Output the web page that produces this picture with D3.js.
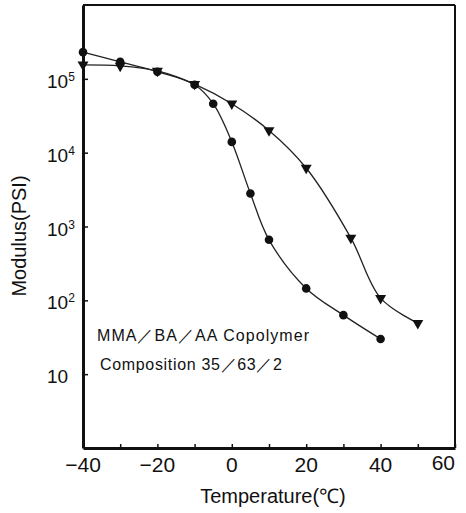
<!DOCTYPE html>
<html>
<head>
<meta charset="utf-8">
<script src="https://cdn.jsdelivr.net/npm/d3@7"></script>
<style>
  body { margin: 0; background: #fff; }
  svg { display: block; font-family: "Liberation Sans", Arial, sans-serif; }
</style>
</head>
<body>
<svg id="chart" width="466" height="513"></svg>
<script>
// temperatures (deg C) and modulus (PSI)
var circleTemp = [-40, -30, -20, -10, -5, 0, 5, 10, 20, 30, 40];
var circleMod  = [2.3e5, 1.7e5, 1.25e5, 8.3e4, 4.6e4, 1.4e4, 2.8e3, 660, 145, 63, 30];
var triTemp = [-40, -30, -20, -10, 0, 10, 20, 32, 40, 50];
var triMod  = [1.55e5, 1.5e5, 1.28e5, 8.5e4, 4.6e4, 2.0e4, 6.2e3, 700, 107, 49];
var xTicks = [-40, -30, -20, -10, 0, 10, 20, 30, 40, 50, 60];
var xLabels = [-40, -20, 0, 20, 40, 60];
var yTicks = [10, 100, 1000, 1e4, 1e5];
var yExp = ["", "2", "3", "4", "5"];
var note1 = "MMA\uFF0FBA\uFF0FAA Copolymer";
var note2 = "Composition 35\uFF0F63\uFF0F2";

(function() {
  var svg = d3.select("#chart");
  var pl = 83, pt = 5, pr = 455, pb = 448;
  var ink = "#111";

  var x = d3.scaleLinear().domain([-40, 60]).range([pl, pr]);
  var y = d3.scaleLog().domain([1, 1e6]).range([pb, pt]);

  // frame
  svg.append("line").attr("x1", pl).attr("x2", pr).attr("y1", pt).attr("y2", pt)
    .attr("stroke", ink).attr("stroke-width", 2);
  svg.append("line").attr("x1", pr).attr("x2", pr).attr("y1", pt).attr("y2", pb)
    .attr("stroke", ink).attr("stroke-width", 2);

  // x axis, ticks inside
  var xAxis = svg.append("g").attr("transform", "translate(0," + pb + ")")
    .call(d3.axisBottom(x).tickValues(xTicks).tickSize(-4).tickSizeOuter(0).tickFormat(""));
  xAxis.select(".domain").attr("stroke", ink).attr("stroke-width", 3);
  xAxis.selectAll(".tick line").attr("stroke", ink).attr("stroke-width", 1.5);

  svg.append("g").selectAll("text").data(xLabels).enter().append("text")
    .attr("x", function(d) { return x(d); })
    .attr("y", function(d) { return d === 60 ? 470 : 472; })
    .attr("text-anchor", function(d) { return d === 60 ? "end" : "middle"; })
    .attr("font-size", 21)
    .attr("fill", ink)
    .text(function(d) { return d < 0 ? "\u2212" + (-d) : d; });

  // y axis, ticks inside
  var yAxis = svg.append("g").attr("transform", "translate(" + pl + ",0)")
    .call(d3.axisLeft(y).tickValues(yTicks).tickSize(-5).tickSizeOuter(0).tickFormat(""));
  yAxis.select(".domain").attr("stroke", ink).attr("stroke-width", 3);
  yAxis.selectAll(".tick line").attr("stroke", ink).attr("stroke-width", 1.5);

  var yl = svg.append("g").selectAll("text").data(yTicks).enter().append("text")
    .attr("x", 47)
    .attr("y", function(d) { return y(d) + 9; })
    .attr("font-size", 19)
    .attr("fill", ink);
  yl.append("tspan").text("10");
  yl.append("tspan").attr("dy", -7).attr("font-size", 12)
    .text(function(d, i) { return yExp[i]; });

  // curves
  var line = d3.line()
    .x(function(d) { return x(d[0]); })
    .y(function(d) { return y(d[1]); })
    .curve(d3.curveCatmullRom.alpha(0.5));

  var circlePts = d3.zip(circleTemp, circleMod);
  var triPts = d3.zip(triTemp, triMod);

  svg.append("path").datum(circlePts).attr("d", line)
    .attr("fill", "none").attr("stroke", "#222").attr("stroke-width", 1.3);
  svg.append("path").datum(triPts).attr("d", line)
    .attr("fill", "none").attr("stroke", "#222").attr("stroke-width", 1.3);

  svg.append("g").selectAll("circle").data(circlePts).enter().append("circle")
    .attr("cx", function(d) { return x(d[0]); })
    .attr("cy", function(d) { return y(d[1]); })
    .attr("r", 4.3)
    .attr("fill", ink);

  var tri = d3.symbol().type(d3.symbolTriangle).size(52);
  svg.append("g").selectAll("path").data(triPts).enter().append("path")
    .attr("d", tri)
    .attr("transform", function(d) {
      return "translate(" + x(d[0]) + "," + y(d[1]) + ") rotate(180)";
    })
    .attr("fill", ink);

  // annotation
  svg.append("text").attr("x", 97).attr("y", 341)
    .attr("font-size", 16).attr("fill", ink)
    .attr("textLength", 212).attr("lengthAdjust", "spacing")
    .text(note1);
  svg.append("text").attr("x", 100).attr("y", 370)
    .attr("font-size", 16).attr("fill", ink)
    .attr("textLength", 182).attr("lengthAdjust", "spacing")
    .text(note2);

  // axis titles
  svg.append("text").attr("x", 273).attr("y", 503)
    .attr("text-anchor", "middle").attr("font-size", 20).attr("fill", ink)
    .text("Temperature(\u2103)");
  svg.append("text")
    .attr("transform", "translate(26,236) rotate(-90)")
    .attr("text-anchor", "middle").attr("font-size", 20).attr("fill", ink)
    .text("Modulus(PSI)");
})();
</script>
</body>
</html>
